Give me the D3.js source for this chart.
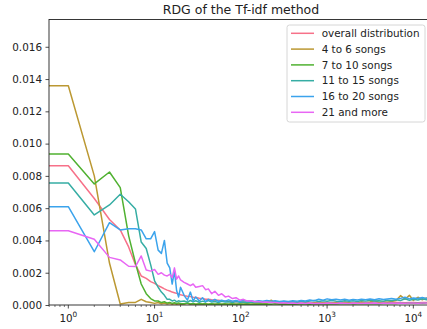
<!DOCTYPE html>
<html>
<head>
<meta charset="utf-8">
<script src="https://cdnjs.cloudflare.com/ajax/libs/d3/7.8.5/d3.min.js"></script>
<style>
  html, body { margin: 0; padding: 0; background: #fff; overflow: hidden; }
  text { font-family: "DejaVu Sans", sans-serif; fill: #222; }
</style>
</head>
<body>
<div id="chart"></div>
<script>
// Data //
var labels = ["overall distribution", "4 to 6 songs", "7 to 10 songs", "11 to 15 songs", "16 to 20 songs", "21 and more"];
var colors = ["#f77189", "#bb9832", "#50b131", "#36ada4", "#3ba3ec", "#e866f4"];

var xs = [0, 1, 2, 3, 4, 5, 6, 7, 8, 9, 10, 11, 12, 13, 14, 15, 16, 17, 18, 19, 20,
  22, 24, 26, 28, 30, 33, 36, 39, 42, 46, 50, 55, 60, 66, 72, 80, 88, 97, 107, 118,
  130, 145, 160, 180, 200, 225, 250, 280, 315, 355, 400, 450, 500, 560, 630, 710, 800, 900, 1000, 1130,
  1270, 1430, 1600, 1800, 2000, 2250, 2500, 2800, 3150, 3550, 4000, 4500, 5000, 5600, 6300, 7100, 8000, 9000, 10000, 11300,
  12700, 14300, 16000, 18000];

var overall = [0.00863, 0.00863, 0.0066, 0.0053, 0.00465, 0.0036, 0.0025, 0.0018, 0.00165, 0.00145, 0.00134, 0.0012, 0.0011, 0.001, 0.00092, 0.00087, 0.0008, 0.00076, 0.00072, 0.00068, 0.00064,
  0.00058, 0.00054, 0.00052, 0.00048, 0.00046, 0.00042, 0.0004, 0.00036, 0.00035, 0.00032, 0.0003, 0.00029, 0.00026, 0.00025, 0.00023, 0.00022, 0.0002, 0.0002, 0.00019, 0.00018,
  0.00018, 0.00017, 0.00017, 0.00016, 0.00016, 0.00016, 0.00015, 0.00015, 0.00015, 0.00014, 0.00014, 0.00014, 0.00013, 0.00014, 0.00013, 0.00014, 0.00013, 0.00014, 0.00013, 0.00014,
  0.00013, 0.00014, 0.00013, 0.00015, 0.00013, 0.00014, 0.00013, 0.00014, 0.00015, 0.00013, 0.00014, 0.00013, 0.00015, 0.00014, 0.00015, 0.00016, 0.00014, 0.00015, 0.00016, 0.00014,
  0.00015, 0.00016, 0.00015, 0.00014];

var songs4to6 = [0.01359, 0.01359, 0.008, 0.0026, 0.00006, 0.00015, 0.00016, 0.00035, 0.0002, 0.00015, 0.0001, 0.00015, 0.00008, 0.00012, 0.00006, 0.0001, 0.00005, 0.00009, 0.00004, 0.00008, 0.00005,
  0.00006, 0.0001, 0.00005, 0.00008, 0.00004, 0.00007, 0.00005, 0.00009, 0.00004, 0.00006, 0.00005, 0.00008, 0.00004, 0.00006, 0.00005, 0.00007, 0.00004, 0.00006, 0.00005, 0.00007,
  0.00005, 0.00008, 0.00006, 0.00009, 0.00012, 0.0003, 0.0001, 0.00008, 0.00012, 0.00009, 0.0001, 0.00013, 0.00009, 0.00012, 0.0001, 0.00014, 0.00018, 0.00012, 0.00016, 0.00013,
  0.00017, 0.00012, 0.00018, 0.00014, 0.00016, 0.00013, 0.0002, 0.00015, 0.00018, 0.00026, 0.00016, 0.0002, 0.00017, 0.00022, 0.00028, 0.00058, 0.00036, 0.0006, 0.00028, 0.00048,
  0.00032, 0.00044, 0.0003, 0.00036];

var songs7to10 = [0.00935, 0.00935, 0.0075, 0.00824, 0.00727, 0.0043, 0.0026, 0.0013, 0.0007, 0.0004, 0.00025, 0.00025, 0.00015, 0.0002, 0.00012, 0.00016, 0.0001, 0.00014, 0.00009, 0.00013, 0.00008,
  0.00008, 0.00012, 0.00006, 0.00009, 0.00005, 0.00008, 0.00006, 0.00007, 0.00005, 0.00008, 0.00005, 0.00006, 0.00005, 0.00007, 0.00004, 0.00006, 0.00005, 0.00006, 0.00004, 0.00006,
  0.00005, 0.00005, 0.00006, 0.00004, 0.00006, 0.00005, 0.00007, 0.00005, 0.00006, 0.00005, 0.00006, 0.00005, 0.00007, 0.00006, 0.00005, 0.00007, 0.00006, 0.00008, 0.00006, 0.00007,
  0.00006, 0.00008, 0.00007, 0.00009, 0.00006, 0.00008, 0.00007, 0.00009, 0.00008, 0.0001, 0.00008, 0.0001, 0.00009, 0.00011, 0.0001, 0.00013, 0.00011, 0.00014, 0.00012, 0.00013,
  0.00011, 0.00014, 0.00012, 0.00013];

var songs11to15 = [0.00756, 0.00756, 0.00558, 0.0062, 0.00686, 0.0064, 0.00595, 0.0039, 0.0035, 0.0025, 0.0015, 0.0011, 0.0008, 0.0006, 0.00035, 0.00035, 0.00025, 0.0003, 0.0002, 0.00026, 0.00022,
  0.00025, 0.00018, 0.00028, 0.0002, 0.00026, 0.00017, 0.00024, 0.00019, 0.00027, 0.00018, 0.00022, 0.00016, 0.00023, 0.00018, 0.0002, 0.00016, 0.00021, 0.00017, 0.00019, 0.00015,
  0.00018, 0.00016, 0.00019, 0.00015, 0.00018, 0.00016, 0.0002, 0.00017, 0.00022, 0.00018, 0.0002, 0.00017, 0.00023, 0.00019, 0.00024, 0.00028, 0.00022, 0.00026, 0.00023, 0.00028,
  0.00024, 0.00022, 0.00027, 0.00023, 0.00026, 0.00022, 0.00028, 0.00024, 0.00029, 0.00025, 0.00027, 0.00024, 0.0003, 0.00026, 0.00032, 0.00028, 0.00038, 0.0003, 0.00036, 0.00031,
  0.00039, 0.00032, 0.00036, 0.00033];

var songs16to20 = [0.00609, 0.00609, 0.0033, 0.0051, 0.00465, 0.00473, 0.00473, 0.00465, 0.0041, 0.0041, 0.00455, 0.0034, 0.0032, 0.004, 0.0026, 0.0023, 0.0013, 0.0021, 0.0009, 0.0005, 0.0011,
  0.0006, 0.0003, 0.0008, 0.00025, 0.0005, 0.00025, 0.00045, 0.0002, 0.00035, 0.00025, 0.00035, 0.00022, 0.0003, 0.00024, 0.00032, 0.00023, 0.00028, 0.00022, 0.0003, 0.00024,
  0.00026, 0.00022, 0.00027, 0.00023, 0.00028, 0.00024, 0.00026, 0.00022, 0.00025, 0.00021, 0.00026, 0.00024, 0.00028, 0.00025, 0.00031, 0.00027, 0.00036, 0.0003, 0.00038, 0.00032,
  0.00036, 0.00031, 0.00035, 0.0003, 0.00034, 0.00031, 0.00036, 0.00032, 0.00037, 0.00033, 0.00039, 0.00034, 0.00037, 0.0004, 0.00036, 0.00041, 0.00048, 0.00038, 0.00044, 0.0004,
  0.00046, 0.00041, 0.00045, 0.00042];

var songs21plus = [0.0046, 0.0046, 0.00407, 0.00295, 0.00279, 0.0024, 0.00238, 0.00304, 0.00217, 0.0021, 0.0022, 0.0019, 0.002, 0.00185, 0.0018, 0.0019, 0.0017, 0.0023, 0.0016, 0.0018, 0.00155,
  0.0014, 0.0013, 0.0012, 0.0013, 0.0011, 0.00115, 0.0012, 0.00095, 0.001, 0.0007, 0.00085, 0.0006, 0.0007, 0.0005, 0.00055, 0.0004, 0.00045, 0.0003, 0.00035, 0.00025,
  0.00026, 0.0002, 0.00022, 0.00017, 0.00018, 0.00015, 0.00016, 0.00013, 0.00014, 0.00011, 0.00012, 0.0001, 0.00012, 0.0001, 0.00012, 0.0001, 0.00011, 0.0001, 0.00012, 0.00011,
  0.0001, 0.00012, 0.00011, 0.0001, 0.00012, 0.00011, 0.0001, 0.00012, 0.00011, 0.00012, 0.0001, 0.00012, 0.00011, 0.00013, 0.00011, 0.00012, 0.00011, 0.00013, 0.00012, 0.00011,
  0.00013, 0.00012, 0.00011, 0.00012];

var series = [overall, songs4to6, songs7to10, songs11to15, songs16to20, songs21plus];

var yTicks = [0, 0.002, 0.004, 0.006, 0.008, 0.010, 0.012, 0.014, 0.016];
var xTicks = [1, 10, 100, 1000, 10000];

// SVG Setup //
var width = 427, height = 329;
var plot = {left: 49, right: 433, top: 19.5, bottom: 305};

var svg = d3.select("#chart").append("svg")
  .attr("width", width)
  .attr("height", height);

var x = d3.scaleLog()
  .domain([0.597, 16900])
  .range([plot.left, plot.right]);
var y = d3.scaleLinear()
  .domain([0, 0.01769])
  .range([plot.bottom, plot.top]);

// zero is clipped to the left edge like matplotlib does on a log axis
function px(v) { return v > 0 ? x(v) : x(x.domain()[0]) - 200; }

svg.append("clipPath").attr("id", "clip")
  .append("rect")
  .attr("x", plot.left).attr("y", plot.top)
  .attr("width", plot.right - plot.left).attr("height", plot.bottom - plot.top);

// lines
var line = d3.line()
  .x(function(d, i) { return px(xs[i]); })
  .y(function(d) { return y(d); });

svg.append("g")
  .attr("clip-path", "url(#clip)")
  .selectAll("path")
  .data(series)
  .enter().append("path")
  .attr("d", line)
  .attr("fill", "none")
  .attr("stroke", function(d, i) { return colors[i]; })
  .attr("stroke-width", 1.5)
  .attr("stroke-linejoin", "round");

// y axis
var yAxis = svg.append("g")
  .attr("transform", "translate(" + plot.left + ",0)")
  .call(d3.axisLeft(y).tickValues(yTicks).tickSize(3.5).tickPadding(3.5)
    .tickFormat(function(d) { return d.toFixed(3); }));
yAxis.select(".domain").remove();
yAxis.selectAll("line").attr("stroke", "#222").attr("stroke-width", 0.8);
yAxis.selectAll("text").style("font-size", "10.4px").attr("fill", "#222");

// x axis, minor ticks first
var minor = [];
[0.1, 1, 10, 100, 1000, 10000].forEach(function(p) {
  [2, 3, 4, 5, 6, 7, 8, 9].forEach(function(m) {
    var v = p * m;
    if (v >= x.domain()[0] && v <= x.domain()[1]) minor.push(v);
  });
});

var xAxis = svg.append("g")
  .attr("transform", "translate(0," + plot.bottom + ")");
xAxis.selectAll(".minor")
  .data(minor)
  .enter().append("line")
  .attr("class", "minor")
  .attr("x1", x).attr("x2", x)
  .attr("y1", 0).attr("y2", 2)
  .attr("stroke", "#222").attr("stroke-width", 0.6);

var major = xAxis.selectAll(".major")
  .data(xTicks)
  .enter().append("g")
  .attr("class", "major")
  .attr("transform", function(d) { return "translate(" + x(d) + ",0)"; });
major.append("line")
  .attr("y1", 0).attr("y2", 3.5)
  .attr("stroke", "#222").attr("stroke-width", 0.8);
var lab = major.append("text")
  .attr("y", 16.5)
  .attr("text-anchor", "middle")
  .style("font-size", "10.4px");
lab.append("tspan").text("10");
lab.append("tspan")
  .attr("dy", -4.5)
  .style("font-size", "7.3px")
  .text(function(d) { return Math.round(Math.log10(d)); });

// spines
svg.append("rect")
  .attr("x", plot.left).attr("y", plot.top)
  .attr("width", plot.right - plot.left).attr("height", plot.bottom - plot.top)
  .attr("fill", "none")
  .attr("stroke", "#222")
  .attr("stroke-width", 0.9);

// title
svg.append("text")
  .attr("x", (plot.left + plot.right) / 2)
  .attr("y", 13.5)
  .attr("text-anchor", "middle")
  .style("font-size", "12.5px")
  .text("RDG of the Tf-idf method");

// legend
var legend = svg.append("g")
  .attr("transform", "translate(287,25)");
legend.append("rect")
  .attr("width", 138).attr("height", 97)
  .attr("rx", 2.5)
  .attr("fill", "#fff").attr("fill-opacity", 0.8)
  .attr("stroke", "#ccc").attr("stroke-width", 0.8);

var entry = legend.selectAll(".entry")
  .data(labels)
  .enter().append("g")
  .attr("class", "entry")
  .attr("transform", function(d, i) { return "translate(0," + (8.3 + i * 15.8) + ")"; });
entry.append("line")
  .attr("x1", 4).attr("x2", 27)
  .attr("stroke", function(d, i) { return colors[i]; })
  .attr("stroke-width", 1.5);
entry.append("text")
  .attr("x", 34.7)
  .attr("dy", "0.35em")
  .style("font-size", "10.4px")
  .text(function(d) { return d; });
</script>
</body>
</html>
